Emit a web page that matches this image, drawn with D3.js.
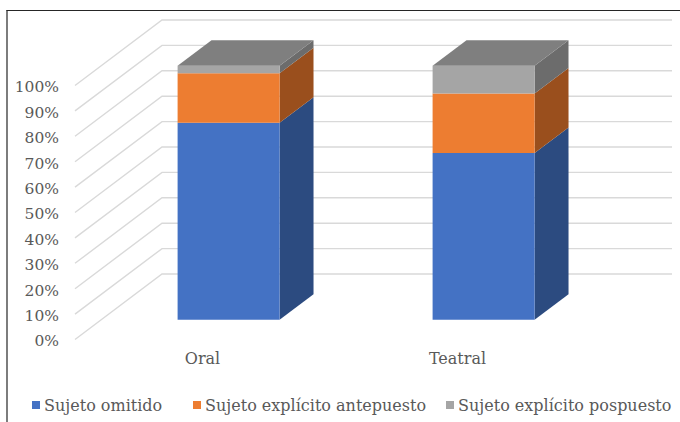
<!DOCTYPE html>
<html>
<head>
<meta charset="utf-8">
<script src="https://cdn.jsdelivr.net/npm/d3@7/dist/d3.min.js"></script>
<style>
  html, body { margin: 0; padding: 0; background: #fff; }
  svg { display: block; }
  text { font-family: "DejaVu Serif", "Liberation Serif", serif; fill: #595959; }
</style>
</head>
<body>
<svg id="chart" width="680" height="422"></svg>
<script>
// Categories, series and tick labels
const categories = ["Oral", "Teatral"];
const seriesNames = ["Sujeto omitido", "Sujeto explícito antepuesto", "Sujeto explícito pospuesto"];
const omitido    = [77.6, 65.7];
const antepuesto = [19.5, 23.4];
const pospuesto  = [2.9, 10.9];
const tickValues = [0, 10, 20, 30, 40, 50, 60, 70, 80, 90, 100];

// Face colours per series: front, side, top
const frontColors = ["#4472C4", "#ED7D31", "#A5A5A5"];
const sideColors  = ["#2C4B80", "#9A4F1D", "#6C6C6C"];
const topColors   = ["#3A62A8", "#C96A29", "#7F7F7F"];

const W = 680, H = 422;
const svg = d3.select("#chart");

// Oblique 3D projection: depth 0 is the front of the floor, 1 is the back wall
const DX = 87, DY = 65.5;
const frontLeft = 75, frontRight = 585;
const barD0 = 0.3, barD1 = 0.69;

const y = d3.scaleLinear().domain([0, 100]).range([339.5, 85.5]);
const x = d3.scaleBand().domain(categories).range([frontLeft, frontRight]).padding(0);
const gapWidth = 1.5;
const barW = x.bandwidth() / (1 + gapWidth);

const P = (px, v, d) => [px + d * DX, y(v) - d * DY];
const poly = pts => "M" + pts.map(p => p.join(",")).join("L") + "Z";

// Normalised 100% stack
const rows = categories.map((c, i) => {
  const tot = omitido[i] + antepuesto[i] + pospuesto[i];
  return {
    cat: c,
    [seriesNames[0]]: omitido[i] / tot * 100,
    [seriesNames[1]]: antepuesto[i] / tot * 100,
    [seriesNames[2]]: pospuesto[i] / tot * 100
  };
});
const stacked = d3.stack().keys(seriesNames)(rows);

// Frame lines
svg.append("line").attr("x1", 6.5).attr("x2", W).attr("y1", 10.5).attr("y2", 10.5)
  .attr("stroke", "#262626").attr("stroke-width", 1.2);
svg.append("line").attr("x1", 7).attr("x2", 7).attr("y1", 10).attr("y2", H)
  .attr("stroke", "#262626").attr("stroke-width", 1.2);

// Gridlines: side wall diagonals and back wall horizontals
const grid = svg.append("g").attr("stroke", "#D9D9D9").attr("stroke-width", 1.4).attr("fill", "none");
tickValues.forEach(v => {
  const a = P(frontLeft, v, 0), b = P(frontLeft, v, 1), c = P(frontRight, v, 1);
  grid.append("path").attr("d", `M${a}L${b}L${c}`);
});

// Bars
const bars = svg.append("g");
categories.forEach((c, ci) => {
  const xl = x(c) + (x.bandwidth() - barW) / 2;
  const xr = xl + barW;
  stacked.forEach((s, si) => {
    const v0 = s[ci][0], v1 = s[ci][1];
    // right side face
    bars.append("path")
      .attr("d", poly([P(xr, v0, barD0), P(xr, v1, barD0), P(xr, v1, barD1), P(xr, v0, barD1)]))
      .attr("fill", sideColors[si]);
    // front face
    bars.append("path")
      .attr("d", poly([P(xl, v0, barD0), P(xr, v0, barD0), P(xr, v1, barD0), P(xl, v1, barD0)]))
      .attr("fill", frontColors[si]);
  });
  // top face of the highest segment
  const last = stacked.length - 1;
  const vt = stacked[last][ci][1];
  bars.append("path")
    .attr("d", poly([P(xl, vt, barD0), P(xr, vt, barD0), P(xr, vt, barD1), P(xl, vt, barD1)]))
    .attr("fill", topColors[last]);
});

// Value axis labels
const yAxis = svg.append("g")
  .attr("transform", "translate(59,1.5)")
  .call(d3.axisLeft(y).tickValues(tickValues).tickFormat(d => d + "%").tickSize(0).tickPadding(0));
yAxis.select(".domain").remove();
yAxis.selectAll("text")
  .style("font-family", "'DejaVu Serif', serif")
  .style("font-size", "15.5px")
  .attr("fill", "#505050");

// Category labels
const xAxis = svg.append("g")
  .attr("transform", "translate(0,353)")
  .call(d3.axisBottom(x).tickSize(0).tickPadding(0));
xAxis.select(".domain").remove();
xAxis.selectAll("text")
  .style("font-family", "'DejaVu Serif', serif")
  .style("font-size", "16px")
  .attr("fill", "#505050")
  .attr("dy", "0.71em");

// Legend
const legendX = [32, 193, 446];
const legend = svg.append("g");
seriesNames.forEach((n, i) => {
  const g = legend.append("g").attr("transform", `translate(${legendX[i]},401)`);
  g.append("rect").attr("width", 8).attr("height", 8).attr("fill", frontColors[i]);
  g.append("text").attr("x", 12).attr("y", 4).attr("dy", "0.35em")
    .attr("fill", "#505050")
    .style("font-size", "16px").text(n);
});
</script>
</body>
</html>
